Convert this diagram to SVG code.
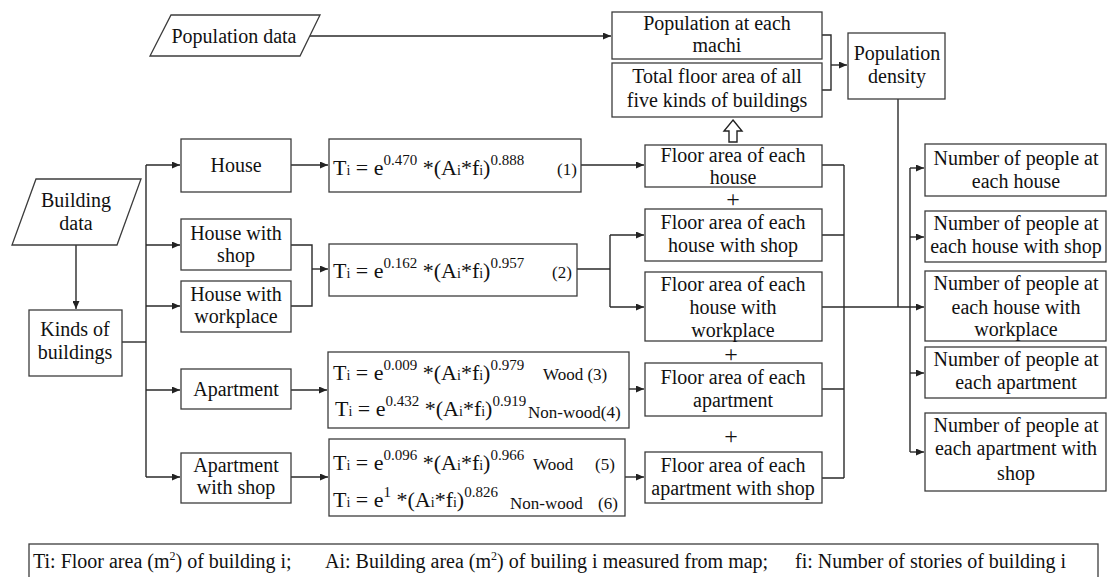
<svg xmlns="http://www.w3.org/2000/svg" width="1108" height="577" viewBox="0 0 1108 577" font-family="'Liberation Serif', serif">
  <style>
    .box { fill: #ffffff; stroke: #3c3c3c; stroke-width: 1.3; }
    .ln { fill: none; stroke: #2a2a2a; stroke-width: 1.4; }
    .ar { fill: none; stroke: #2a2a2a; stroke-width: 1.4; marker-end: url(#arrow); }
    .t, .f, .n, .plus, .lg { font-family: 'Liberation Serif', serif; fill: #111111; }
    .t { font-size: 20px; text-anchor: middle; }
    .f { font-size: 22px; }
    .s { font-size: 14px; }
    .sup { font-size: 15px; }
    .n { font-size: 17px; }
    .plus { font-size: 24px; text-anchor: middle; }
    .lg { font-size: 20px; }
    .lgs { font-size: 12px; }
  </style>
  <defs>
    <marker id="arrow" markerUnits="userSpaceOnUse" markerWidth="9" markerHeight="7" refX="8" refY="3.5" orient="auto">
      <path d="M0,0 L8,3.5 L0,7 z" fill="#222222"/>
    </marker>
  </defs>

  <!-- connectors -->
  <g id="connectors">
    <!-- population data to machi -->
    <path class="ar" d="M310,36 H611"/>
    <!-- machi + total floor area into density -->
    <path class="ln" d="M822,35 H831 V90 H822"/>
    <path class="ar" d="M831,65 H847"/>
    <!-- building data to kinds -->
    <path class="ar" d="M76,245 V309"/>
    <!-- kinds fan-out -->
    <path class="ln" d="M122,342 H146"/>
    <path class="ln" d="M146,165 V477"/>
    <path class="ar" d="M146,165 H180"/>
    <path class="ar" d="M146,245 H180"/>
    <path class="ar" d="M146,306 H180"/>
    <path class="ar" d="M146,390 H180"/>
    <path class="ar" d="M146,477 H180"/>
    <!-- building kinds to formulas -->
    <path class="ar" d="M291,165 H328"/>
    <path class="ln" d="M291,245 H312 V306 H291"/>
    <path class="ar" d="M312,269 H328"/>
    <path class="ar" d="M291,390 H327"/>
    <path class="ar" d="M291,477 H328"/>
    <!-- formulas to floor areas -->
    <path class="ar" d="M581,165 H644"/>
    <path class="ln" d="M577,269 H610"/>
    <path class="ln" d="M610,235 V307"/>
    <path class="ar" d="M610,235 H644"/>
    <path class="ar" d="M610,307 H644"/>
    <path class="ar" d="M629,389 H644"/>
    <path class="ar" d="M625,477 H644"/>
    <!-- floor areas gathered -->
    <path class="ln" d="M822,165 H844 M822,235 H844 M822,389 H844 M822,478 H844"/>
    <path class="ln" d="M844,165 V478"/>
    <path class="ar" d="M822,307 H924"/>
    <!-- density down to main line -->
    <path class="ln" d="M898,99 V307"/>
    <!-- distribution to people counts -->
    <path class="ln" d="M910,168 V452"/>
    <path class="ar" d="M910,168 H924"/>
    <path class="ar" d="M910,237 H924"/>
    <path class="ar" d="M910,373 H924"/>
    <path class="ar" d="M910,452 H924"/>
    <!-- hollow up arrow from floor areas to total -->
    <path d="M733,120 L742,131 L737,131 L737,142 L729,142 L729,131 L724,131 Z" fill="#ffffff" stroke="#222222" stroke-width="1.4"/>
    <!-- plus signs -->
    <text class="plus" x="733" y="207">+</text>
    <text class="plus" x="731" y="362">+</text>
    <text class="plus" x="731" y="444">+</text>
  </g>

  <!-- data inputs -->
  <g id="population-data">
    <polygon class="box" points="171,15 320,15 300,56 150,56"/>
    <text class="t" x="234" y="43">Population data</text>
  </g>
  <g id="building-data">
    <polygon class="box" points="36,179 141,179 117,245 12,245"/>
    <text class="t" x="76" y="207">Building</text>
    <text class="t" x="76" y="230">data</text>
  </g>
  <g id="kinds-of-buildings">
    <rect class="box" x="29" y="310" width="93" height="66"/>
    <text class="t" x="75" y="336">Kinds of</text>
    <text class="t" x="75" y="359">buildings</text>
  </g>

  <!-- building kinds -->
  <g id="house">
    <rect class="box" x="181" y="139" width="110" height="53"/>
    <text class="t" x="236" y="172">House</text>
  </g>
  <g id="house-with-shop">
    <rect class="box" x="181" y="219" width="110" height="51"/>
    <text class="t" x="236" y="240">House with</text>
    <text class="t" x="236" y="262">shop</text>
  </g>
  <g id="house-with-workplace">
    <rect class="box" x="181" y="281" width="110" height="51"/>
    <text class="t" x="236" y="301">House with</text>
    <text class="t" x="236" y="323">workplace</text>
  </g>
  <g id="apartment">
    <rect class="box" x="181" y="369" width="110" height="40"/>
    <text class="t" x="236" y="396">Apartment</text>
  </g>
  <g id="apartment-with-shop">
    <rect class="box" x="181" y="453" width="110" height="50"/>
    <text class="t" x="236" y="472">Apartment</text>
    <text class="t" x="236" y="494">with shop</text>
  </g>

  <!-- floor area equations -->
  <g id="eq-house">
    <rect class="box" x="329" y="139" width="252" height="53"/>
    <text class="f" x="333" y="175">T<tspan class="s">i</tspan> = e<tspan class="sup" dy="-10">0.470</tspan><tspan dy="10"> *(A</tspan><tspan class="s">i</tspan>*f<tspan class="s">i</tspan>)<tspan class="sup" dy="-10">0.888</tspan></text>
    <text class="n" x="557" y="175">(1)</text>
  </g>
  <g id="eq-house-shop">
    <rect class="box" x="329" y="244" width="248" height="52"/>
    <text class="f" x="333" y="278">T<tspan class="s">i</tspan> = e<tspan class="sup" dy="-10">0.162</tspan><tspan dy="10"> *(A</tspan><tspan class="s">i</tspan>*f<tspan class="s">i</tspan>)<tspan class="sup" dy="-10">0.957</tspan></text>
    <text class="n" x="552" y="278">(2)</text>
  </g>
  <g id="eq-apartment">
    <rect class="box" x="328" y="352" width="301" height="76"/>
    <text class="f" x="333" y="380">T<tspan class="s">i</tspan> = e<tspan class="sup" dy="-10">0.009</tspan><tspan dy="10"> *(A</tspan><tspan class="s">i</tspan>*f<tspan class="s">i</tspan>)<tspan class="sup" dy="-10">0.979</tspan></text>
    <text class="n" x="543" y="380">Wood (3)</text>
    <text class="f" x="335" y="416">T<tspan class="s">i</tspan> = e<tspan class="sup" dy="-10">0.432</tspan><tspan dy="10"> *(A</tspan><tspan class="s">i</tspan>*f<tspan class="s">i</tspan>)<tspan class="sup" dy="-10">0.919</tspan></text>
    <text class="n" x="528" y="418">Non-wood(4)</text>
  </g>
  <g id="eq-apartment-shop">
    <rect class="box" x="329" y="439" width="296" height="77"/>
    <text class="f" x="333" y="470">T<tspan class="s">i</tspan> = e<tspan class="sup" dy="-10">0.096</tspan><tspan dy="10"> *(A</tspan><tspan class="s">i</tspan>*f<tspan class="s">i</tspan>)<tspan class="sup" dy="-10">0.966</tspan></text>
    <text class="n" x="533" y="470">Wood</text>
    <text class="n" x="595" y="470">(5)</text>
    <text class="f" x="333" y="507">T<tspan class="s">i</tspan> = e<tspan class="sup" dy="-10">1</tspan><tspan dy="10"> *(A</tspan><tspan class="s">i</tspan>*f<tspan class="s">i</tspan>)<tspan class="sup" dy="-10">0.826</tspan></text>
    <text class="n" x="510" y="509">Non-wood</text>
    <text class="n" x="598" y="509">(6)</text>
  </g>

  <!-- floor areas -->
  <g id="floor-house">
    <rect class="box" x="645" y="145" width="177" height="42"/>
    <text class="t" x="733" y="162">Floor area of each</text>
    <text class="t" x="733" y="184">house</text>
  </g>
  <g id="floor-house-shop">
    <rect class="box" x="645" y="209" width="177" height="52"/>
    <text class="t" x="733" y="229">Floor area of each</text>
    <text class="t" x="733" y="252">house with shop</text>
  </g>
  <g id="floor-house-workplace">
    <rect class="box" x="645" y="272" width="177" height="69"/>
    <text class="t" x="733" y="291">Floor area of each</text>
    <text class="t" x="733" y="314">house with</text>
    <text class="t" x="733" y="337">workplace</text>
  </g>
  <g id="floor-apartment">
    <rect class="box" x="645" y="363" width="177" height="53"/>
    <text class="t" x="733" y="384">Floor area of each</text>
    <text class="t" x="733" y="407">apartment</text>
  </g>
  <g id="floor-apartment-shop">
    <rect class="box" x="645" y="452" width="177" height="51"/>
    <text class="t" x="733" y="472">Floor area of each</text>
    <text class="t" x="733" y="495">apartment with shop</text>
  </g>

  <!-- totals and density -->
  <g id="population-machi">
    <rect class="box" x="612" y="12" width="210" height="47"/>
    <text class="t" x="717" y="30">Population at each</text>
    <text class="t" x="717" y="52">machi</text>
  </g>
  <g id="total-floor-area">
    <rect class="box" x="612" y="63" width="210" height="54"/>
    <text class="t" x="717" y="83">Total floor area of all</text>
    <text class="t" x="717" y="107">five kinds of buildings</text>
  </g>
  <g id="population-density">
    <rect class="box" x="848" y="33" width="97" height="66"/>
    <text class="t" x="897" y="60">Population</text>
    <text class="t" x="897" y="83">density</text>
  </g>

  <!-- people counts -->
  <g id="people-house">
    <rect class="box" x="925" y="144" width="181" height="52"/>
    <text class="t" x="1016" y="165">Number of people at</text>
    <text class="t" x="1016" y="188">each house</text>
  </g>
  <g id="people-house-shop">
    <rect class="box" x="925" y="211" width="181" height="51"/>
    <text class="t" x="1016" y="230">Number of people at</text>
    <text class="t" x="1016" y="253">each house with shop</text>
  </g>
  <g id="people-house-workplace">
    <rect class="box" x="925" y="271" width="181" height="70"/>
    <text class="t" x="1016" y="290">Number of people at</text>
    <text class="t" x="1016" y="314">each house with</text>
    <text class="t" x="1016" y="336">workplace</text>
  </g>
  <g id="people-apartment">
    <rect class="box" x="925" y="347" width="181" height="51"/>
    <text class="t" x="1016" y="366">Number of people at</text>
    <text class="t" x="1016" y="389">each apartment</text>
  </g>
  <g id="people-apartment-shop">
    <rect class="box" x="925" y="413" width="181" height="78"/>
    <text class="t" x="1016" y="432">Number of people at</text>
    <text class="t" x="1016" y="455">each apartment with</text>
    <text class="t" x="1016" y="480">shop</text>
  </g>

  <!-- legend -->
  <g id="legend">
    <rect class="box" x="29" y="544" width="1069" height="40"/>
    <text class="lg" x="33" y="568">Ti: Floor area (m<tspan class="lgs" dy="-8">2</tspan><tspan dy="8">) of building i;</tspan></text>
    <text class="lg" x="325" y="568">Ai: Building area (m<tspan class="lgs" dy="-8">2</tspan><tspan dy="8">) of builing i measured from map;</tspan></text>
    <text class="lg" x="795" y="568">fi: Number of stories of building i</text>
  </g>
</svg>
